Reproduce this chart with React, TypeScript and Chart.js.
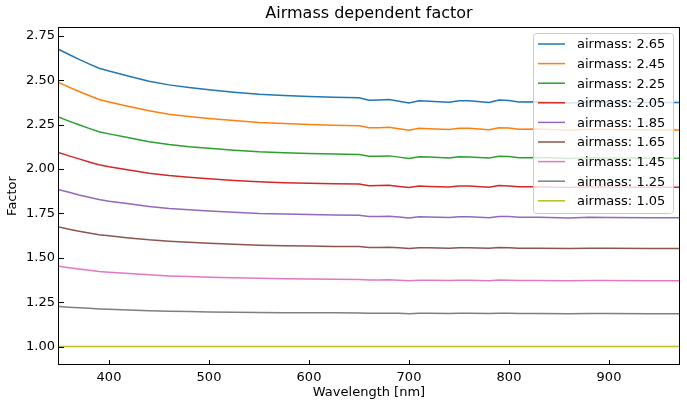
import React, { useEffect, useRef } from "react";
import { Chart, registerables } from "chart.js";

Chart.register(...registerables);

const wavelengths = [350, 360, 370, 380, 390, 400, 420, 440, 460, 480, 500, 525, 550, 575, 600, 625, 650, 660, 670, 680, 690, 700, 710, 720, 740, 750, 760, 780, 790, 800, 810, 830, 860, 880, 900, 940, 970];

const am265 = [2.673, 2.645, 2.618, 2.592, 2.568, 2.552, 2.523, 2.495, 2.474, 2.459, 2.447, 2.433, 2.421, 2.414, 2.409, 2.404, 2.401, 2.388, 2.389, 2.391, 2.382, 2.372, 2.385, 2.382, 2.376, 2.385, 2.384, 2.375, 2.389, 2.386, 2.378, 2.379, 2.372, 2.378, 2.376, 2.374, 2.374];
const am245 = [2.486, 2.461, 2.437, 2.414, 2.392, 2.378, 2.352, 2.328, 2.309, 2.296, 2.285, 2.273, 2.262, 2.256, 2.251, 2.247, 2.244, 2.233, 2.233, 2.235, 2.227, 2.218, 2.230, 2.227, 2.222, 2.230, 2.229, 2.221, 2.233, 2.231, 2.224, 2.225, 2.218, 2.224, 2.222, 2.220, 2.220];
const am225 = [2.292, 2.270, 2.249, 2.229, 2.210, 2.198, 2.176, 2.154, 2.138, 2.126, 2.117, 2.106, 2.097, 2.092, 2.088, 2.084, 2.082, 2.072, 2.072, 2.074, 2.067, 2.059, 2.069, 2.067, 2.062, 2.069, 2.068, 2.062, 2.072, 2.070, 2.064, 2.065, 2.059, 2.064, 2.062, 2.061, 2.061];
const am205 = [2.092, 2.074, 2.057, 2.040, 2.024, 2.013, 1.995, 1.976, 1.963, 1.953, 1.945, 1.936, 1.928, 1.923, 1.920, 1.917, 1.915, 1.906, 1.907, 1.908, 1.902, 1.896, 1.904, 1.902, 1.899, 1.904, 1.904, 1.898, 1.907, 1.905, 1.900, 1.900, 1.896, 1.900, 1.899, 1.897, 1.897];
const am185 = [1.883, 1.869, 1.854, 1.841, 1.828, 1.819, 1.804, 1.789, 1.778, 1.770, 1.764, 1.757, 1.750, 1.747, 1.744, 1.741, 1.740, 1.733, 1.733, 1.734, 1.730, 1.724, 1.731, 1.730, 1.727, 1.731, 1.731, 1.726, 1.733, 1.732, 1.728, 1.728, 1.724, 1.728, 1.727, 1.725, 1.725];
const am165 = [1.673, 1.661, 1.650, 1.640, 1.630, 1.624, 1.612, 1.601, 1.593, 1.587, 1.582, 1.576, 1.571, 1.568, 1.566, 1.564, 1.563, 1.558, 1.558, 1.559, 1.556, 1.552, 1.557, 1.556, 1.553, 1.557, 1.556, 1.553, 1.558, 1.557, 1.554, 1.554, 1.552, 1.554, 1.553, 1.552, 1.552];
const am145 = [1.452, 1.444, 1.437, 1.430, 1.423, 1.419, 1.411, 1.404, 1.398, 1.394, 1.391, 1.387, 1.384, 1.382, 1.380, 1.379, 1.378, 1.375, 1.375, 1.376, 1.373, 1.370, 1.374, 1.373, 1.372, 1.374, 1.374, 1.371, 1.375, 1.374, 1.372, 1.372, 1.370, 1.372, 1.372, 1.371, 1.371];
const am125 = [1.226, 1.222, 1.218, 1.215, 1.212, 1.210, 1.206, 1.202, 1.199, 1.197, 1.195, 1.193, 1.192, 1.191, 1.190, 1.190, 1.189, 1.187, 1.188, 1.188, 1.187, 1.185, 1.187, 1.187, 1.186, 1.187, 1.187, 1.186, 1.188, 1.187, 1.186, 1.186, 1.185, 1.186, 1.186, 1.185, 1.185];
const am105 = [1.0, 1.0, 1.0, 1.0, 1.0, 1.0, 1.0, 1.0, 1.0, 1.0, 1.0, 1.0, 1.0, 1.0, 1.0, 1.0, 1.0, 1.0, 1.0, 1.0, 1.0, 1.0, 1.0, 1.0, 1.0, 1.0, 1.0, 1.0, 1.0, 1.0, 1.0, 1.0, 1.0, 1.0, 1.0, 1.0, 1.0];

const seriesLabels = ["airmass: 2.65", "airmass: 2.45", "airmass: 2.25", "airmass: 2.05", "airmass: 1.85", "airmass: 1.65", "airmass: 1.45", "airmass: 1.25", "airmass: 1.05"];
const seriesValues = [am265, am245, am225, am205, am185, am165, am145, am125, am105];
const colors = ["#1f77b4", "#ff7f0e", "#2ca02c", "#d62728", "#9467bd", "#8c564b", "#e377c2", "#7f7f7f", "#bcbd22"];

const xTicks = [400, 500, 600, 700, 800, 900];
const yTicks = [1.0, 1.25, 1.5, 1.75, 2.0, 2.25, 2.5, 2.75];

const titleText = "Airmass dependent factor";
const FONT = "'DejaVu Sans', sans-serif";

const decorPlugin = {
  id: "decor",
  afterDraw(chart: any) {
    const ctx = chart.ctx;
    const ca = chart.chartArea;
    ctx.save();
    // spines
    ctx.strokeStyle = "#000";
    ctx.lineWidth = 1;
    ctx.strokeRect(Math.round(ca.left) - 0.5, Math.round(ca.top) + 0.5, Math.round(ca.right - ca.left) + 1, Math.round(ca.bottom - ca.top) - 1);
    // inward ticks
    const xs = chart.scales.x;
    const ys = chart.scales.y;
    ctx.beginPath();
    for (const t of xs.ticks) {
      const px = Math.round(xs.getPixelForValue(t.value)) + 0.5;
      ctx.moveTo(px, ca.bottom);
      ctx.lineTo(px, ca.bottom - 5);
    }
    for (const t of ys.ticks) {
      const py = Math.round(ys.getPixelForValue(t.value)) + 0.5;
      ctx.moveTo(ca.left, py);
      ctx.lineTo(ca.left + 5, py);
    }
    ctx.stroke();
    // title
    ctx.fillStyle = "#000";
    ctx.font = `16px ${FONT}`;
    ctx.textAlign = "center";
    ctx.textBaseline = "middle";
    ctx.fillText(titleText, (ca.left + ca.right) / 2, 14);
    // legend
    const lx = 533.5, ly = 33.5, lw = 140, lh = 180, r = 3;
    ctx.beginPath();
    ctx.moveTo(lx + r, ly);
    ctx.lineTo(lx + lw - r, ly);
    ctx.arcTo(lx + lw, ly, lx + lw, ly + r, r);
    ctx.lineTo(lx + lw, ly + lh - r);
    ctx.arcTo(lx + lw, ly + lh, lx + lw - r, ly + lh, r);
    ctx.lineTo(lx + r, ly + lh);
    ctx.arcTo(lx, ly + lh, lx, ly + lh - r, r);
    ctx.lineTo(lx, ly + r);
    ctx.arcTo(lx, ly, lx + r, ly, r);
    ctx.closePath();
    ctx.fillStyle = "rgba(255,255,255,0.8)";
    ctx.fill();
    ctx.strokeStyle = "#cccccc";
    ctx.lineWidth = 1;
    ctx.stroke();
    ctx.font = `13px ${FONT}`;
    ctx.textAlign = "left";
    ctx.textBaseline = "middle";
    seriesLabels.forEach((lab, i) => {
      const cy = 45 + i * 19.6;
      ctx.strokeStyle = colors[i];
      ctx.lineWidth = 1.5;
      ctx.beginPath();
      ctx.moveTo(538, cy - 1);
      ctx.lineTo(565, cy - 1);
      ctx.stroke();
      ctx.fillStyle = "#000";
      ctx.fillText(lab, 577, cy);
    });
    ctx.restore();
  },
};

export default function App() {
  const ref = useRef<HTMLCanvasElement | null>(null);
  useEffect(() => {
    if (!ref.current) return;
    const datasets = seriesLabels.map((lab, i) => ({
      label: lab,
      data: wavelengths.map((w, j) => ({ x: w, y: seriesValues[i][j] })),
      borderColor: colors[i],
      backgroundColor: colors[i],
      borderWidth: 1.5,
      pointRadius: 0,
      tension: 0,
      fill: false,
    }));
    const chart = new Chart(ref.current, {
      type: "line",
      data: { datasets },
      options: {
        responsive: false,
        animation: false,
        layout: { padding: { left: 0, right: 8, top: 27, bottom: 0 } },
        plugins: { legend: { display: false }, title: { display: false }, tooltip: { enabled: false } },
        scales: {
          x: {
            type: "linear",
            min: 350,
            max: 970,
            afterBuildTicks: (s: any) => { s.ticks = xTicks.map((v) => ({ value: v })); },
            afterFit: (s: any) => { s.height = 42; },
            grid: { display: false, drawTicks: false },
            border: { display: false },
            ticks: { color: "#000", font: { family: FONT, size: 13 }, padding: 5, maxRotation: 0, callback: (v: any) => String(v) },
            title: { display: true, text: "Wavelength [nm]", color: "#000", font: { family: FONT, size: 13 }, padding: { top: 0, bottom: 7 } },
          },
          y: {
            type: "linear",
            min: 0.896,
            max: 2.8,
            afterBuildTicks: (s: any) => { s.ticks = yTicks.map((v) => ({ value: v })); },
            afterFit: (s: any) => { s.width = 59; },
            grid: { display: false, drawTicks: false },
            border: { display: false },
            ticks: { color: "#000", font: { family: FONT, size: 13 }, padding: 4, callback: (v: any) => Number(v).toFixed(2) },
            title: { display: true, text: "Factor", color: "#000", font: { family: FONT, size: 13 }, padding: { top: 5, bottom: 0 } },
          },
        },
      },
      plugins: [decorPlugin],
    });
    return () => chart.destroy();
  }, []);
  return (
    <div style={{ position: "fixed", left: 0, top: 0, width: 687, height: 407, background: "#fff" }}>
      <canvas ref={ref} width={687} height={407} style={{ display: "block" }} />
    </div>
  );
}
